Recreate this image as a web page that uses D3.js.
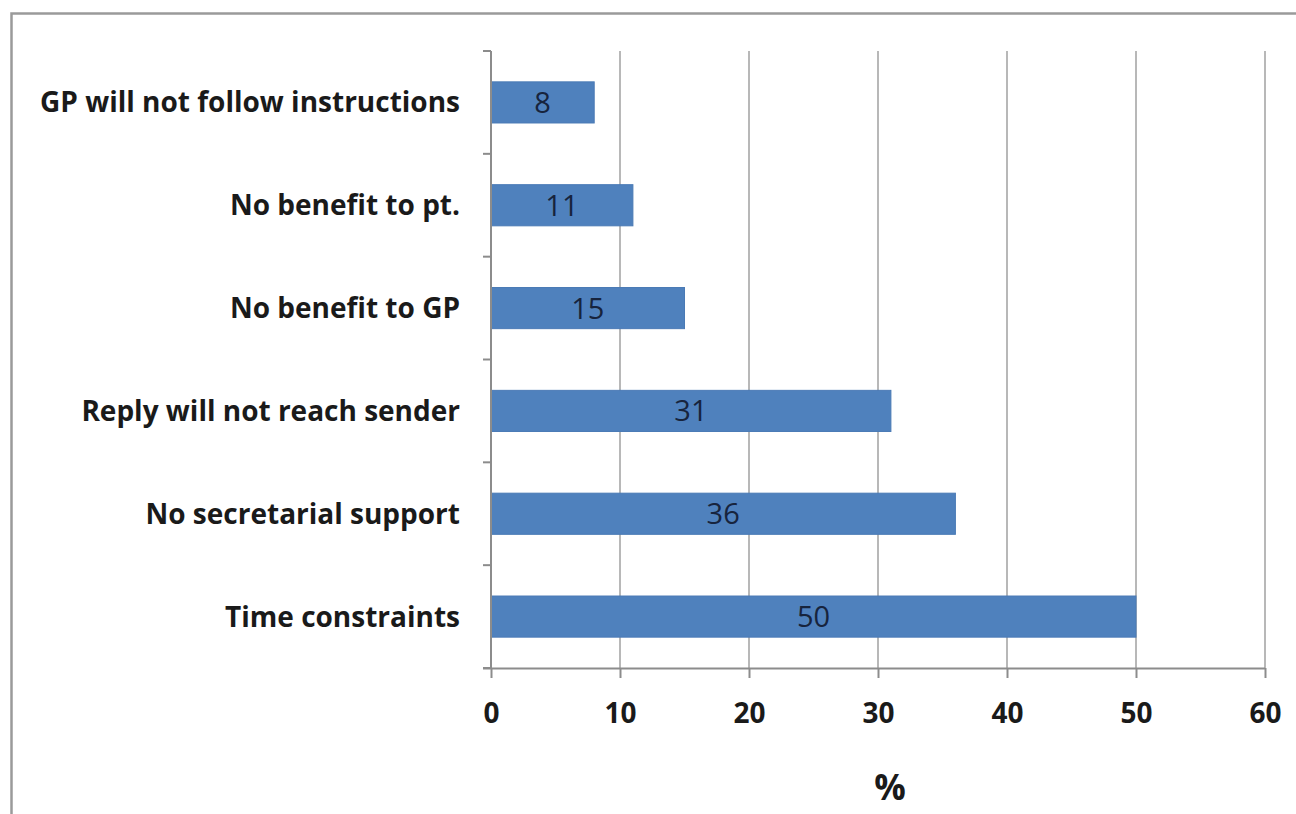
<!DOCTYPE html>
<html>
<head>
<meta charset="utf-8">
<script src="https://cdn.jsdelivr.net/npm/d3@7"></script>
<style>
  html, body { margin: 0; padding: 0; background: #fff; }
  svg { display: block; }
</style>
</head>
<body>
<svg id="chart" width="1296" height="814"></svg>
<script>
// Reasons given (top to bottom) and the share of respondents, in %
const categories = [
  "GP will not follow instructions",
  "No benefit to pt.",
  "No benefit to GP",
  "Reply will not reach sender",
  "No secretarial support",
  "Time constraints"
];
const values = [8, 11, 15, 31, 36, 50];
const xTicks = [0, 10, 20, 30, 40, 50, 60];
const xTitle = "%";

const svg = d3.select("#chart");
const W = 1296, H = 814;
const plot = { left: 491, right: 1265, top: 51, bottom: 668 };
const fontFamily = "'Open Sans', 'Liberation Sans', sans-serif";

// Outer frame (top and left edges visible)
svg.append("path")
  .attr("d", `M11.5,${H} L11.5,13.5 L${W},13.5`)
  .attr("fill", "none")
  .attr("stroke", "#9a9a9a")
  .attr("stroke-width", 2.5);

const x = d3.scaleLinear().domain([0, 60]).range([plot.left, plot.right]);
const y = d3.scaleBand().domain(categories).range([plot.top, plot.bottom]).paddingInner(0.6).paddingOuter(0.3);
const yEdges = d3.scaleLinear().domain([0, categories.length]).range([plot.top, plot.bottom]);

// Vertical gridlines
svg.append("g")
  .selectAll("line")
  .data(xTicks.filter(d => d > 0))
  .join("line")
  .attr("x1", d => x(d)).attr("x2", d => x(d))
  .attr("y1", plot.top).attr("y2", plot.bottom)
  .attr("stroke", "#b8b8b8")
  .attr("stroke-width", 2);

// Bars
svg.append("g")
  .selectAll("rect")
  .data(values)
  .join("rect")
  .attr("x", x(0))
  .attr("y", (d, i) => y(categories[i]))
  .attr("width", d => x(d) - x(0))
  .attr("height", y.bandwidth())
  .attr("fill", "#4f81bd")
  .attr("stroke", "#4a7ab5")
  .attr("stroke-width", 1);

// Value labels inside bars
svg.append("g")
  .selectAll("text")
  .data(values)
  .join("text")
  .attr("x", d => (x(0) + x(d)) / 2)
  .attr("y", (d, i) => y(categories[i]) + y.bandwidth() / 2)
  .attr("dy", "0.36em")
  .attr("text-anchor", "middle")
  .attr("font-family", fontFamily)
  .attr("font-size", 29)
  .attr("fill", "#17243d")
  .text(d => d);

// X axis
const xAxis = d3.axisBottom(x).tickValues(xTicks).tickSize(10).tickPadding(25).tickFormat(d3.format("d"));
const gx = svg.append("g")
  .attr("transform", `translate(0,${plot.bottom})`)
  .call(xAxis);
gx.select(".domain").attr("stroke", "#8c8c8c").attr("stroke-width", 2)
  .attr("d", `M${plot.left - 8},0.5H${plot.right}`);
gx.selectAll(".tick line").attr("stroke", "#8c8c8c").attr("stroke-width", 2);
gx.selectAll(".tick text")
  .attr("font-family", fontFamily)
  .attr("font-size", 28)
  .attr("font-weight", "bold")
  .attr("fill", "#1a1a1a");

// Y axis line with category boundary ticks
const gy = svg.append("g");
gy.append("line")
  .attr("x1", plot.left).attr("x2", plot.left)
  .attr("y1", plot.top).attr("y2", plot.bottom)
  .attr("stroke", "#8c8c8c").attr("stroke-width", 2);
gy.selectAll("line.edge")
  .data(d3.range(categories.length + 1))
  .join("line")
  .attr("class", "edge")
  .attr("x1", plot.left - 8).attr("x2", plot.left)
  .attr("y1", d => yEdges(d)).attr("y2", d => yEdges(d))
  .attr("stroke", "#8c8c8c").attr("stroke-width", 2);

// Category labels
svg.append("g")
  .selectAll("text")
  .data(categories)
  .join("text")
  .attr("x", 460)
  .attr("y", d => y(d) + y.bandwidth() / 2)
  .attr("dy", "0.36em")
  .attr("text-anchor", "end")
  .attr("font-family", fontFamily)
  .attr("font-size", 28)
  .attr("font-weight", "bold")
  .attr("fill", "#1a1a1a")
  .text(d => d);

// Axis title
svg.append("text")
  .attr("x", 890)
  .attr("y", 800)
  .attr("text-anchor", "middle")
  .attr("font-family", fontFamily)
  .attr("font-size", 35)
  .attr("font-weight", "bold")
  .attr("fill", "#1a1a1a")
  .text(xTitle);
</script>
</body>
</html>
